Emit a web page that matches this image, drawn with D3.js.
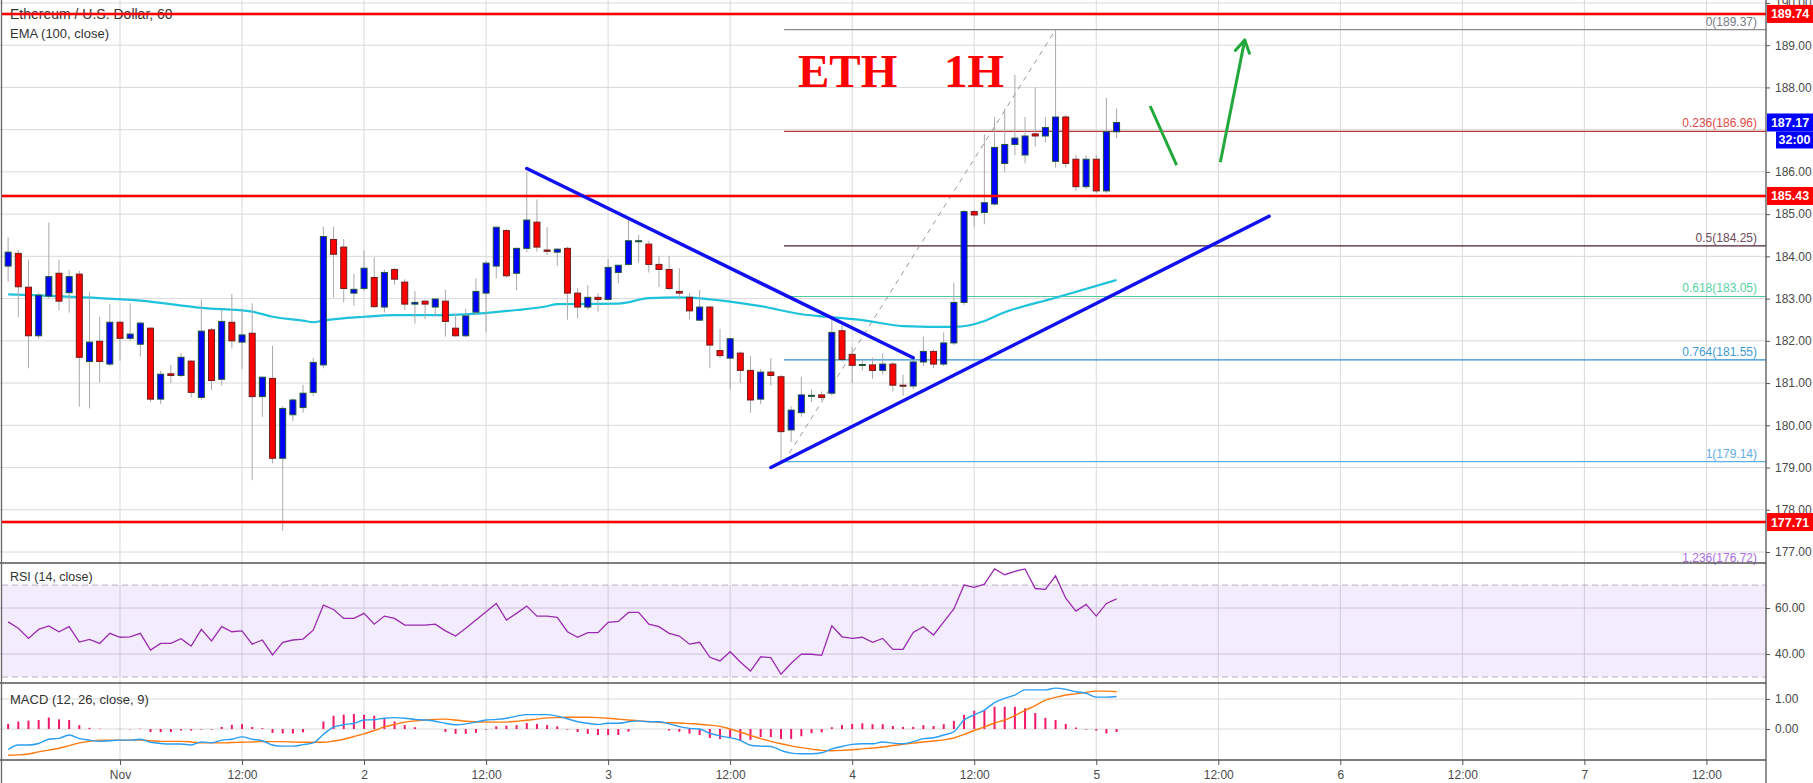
<!DOCTYPE html>
<html><head><meta charset="utf-8">
<script src="https://cdn.jsdelivr.net/npm/d3@7/dist/d3.min.js"></script>
<style>body{margin:0;background:#fff;overflow:hidden}svg{display:block;font-family:"Liberation Sans",Arial,sans-serif}</style>
</head><body><svg id="c" width="1813" height="783"></svg>
<script>
// ---------- DATA (hourly candles, first bar = 31 Oct 13:00) ----------
const opens=[183.77,184.07,183.27,182.12,183.06,183.60,183.14,183.58,181.51,181.99,181.45,182.44,182.06,181.92,182.30,180.62,181.22,181.18,181.52,180.66,182.26,181.09,182.44,181.97,182.18,180.68,181.11,179.22,180.25,180.42,180.78,181.43,184.40,184.22,183.13,183.24,183.50,182.80,183.69,183.39,182.87,182.94,182.80,182.94,182.30,182.12,182.68,183.13,183.77,184.61,183.60,184.19,184.81,184.15,184.10,184.19,183.13,182.80,183.03,182.98,183.62,183.81,184.35,184.29,183.81,183.69,183.17,183.03,182.49,182.80,181.77,181.59,181.71,181.30,180.62,181.26,181.15,179.89,180.30,180.70,180.72,180.76,182.24,181.68,181.43,181.43,181.30,181.45,180.95,180.93,181.50,181.75,181.45,181.95,182.91,185.06,185.04,185.24,186.20,186.65,186.40,186.90,186.85,186.25,187.30,186.30,185.65,186.30,185.55,186.95];
const highs=[184.45,184.15,183.92,183.14,184.80,183.92,183.68,183.66,183.15,182.57,182.87,182.46,182.89,182.45,182.32,181.29,181.43,181.71,181.54,182.98,182.30,182.73,183.11,182.76,182.89,181.14,181.88,180.45,180.64,180.96,181.60,184.70,184.70,184.41,183.58,184.14,183.98,183.69,183.72,183.46,183.18,182.95,183.00,183.21,182.65,182.76,183.48,183.89,184.70,184.65,184.20,186.00,185.35,184.69,184.20,184.23,183.25,183.32,183.13,183.93,183.80,184.90,184.51,184.37,184.01,184.01,183.72,183.13,183.20,182.82,182.28,182.08,181.75,181.64,181.33,181.59,181.19,180.45,181.15,180.85,180.80,182.57,182.38,181.86,181.55,181.60,181.70,181.50,181.20,181.60,182.10,181.80,182.20,183.38,185.10,185.10,186.89,187.30,187.50,188.30,187.30,188.00,187.30,189.37,187.35,186.40,186.40,186.40,187.75,187.50];
const lows=[183.40,182.56,181.35,182.05,183.00,182.73,182.67,180.44,180.40,181.01,181.40,181.53,182.00,181.63,180.55,180.50,181.00,181.14,180.66,180.60,180.84,180.94,181.82,181.33,178.70,180.20,179.10,177.50,180.10,180.30,180.70,181.35,183.02,182.91,182.83,183.18,182.78,182.67,183.33,182.73,182.41,182.51,182.57,182.10,182.10,182.08,182.60,182.20,183.48,183.50,183.20,184.10,184.11,184.03,183.77,182.50,182.53,182.73,182.69,182.95,183.36,183.78,183.85,183.62,183.27,183.20,182.98,182.51,182.47,181.35,181.60,180.85,181.00,180.30,180.50,180.94,179.14,179.60,180.20,180.55,180.60,180.70,181.50,181.00,181.30,181.10,181.20,180.80,180.70,180.85,181.40,181.35,181.40,181.90,182.85,184.70,184.76,185.20,186.00,186.40,186.20,186.60,186.70,186.10,186.10,185.55,185.60,185.50,185.50,186.80];
const closes=[184.10,183.28,182.12,183.08,183.52,182.94,183.52,181.61,181.97,181.51,182.44,182.06,182.16,182.42,180.62,181.21,181.18,181.61,180.78,182.23,181.06,182.46,182.00,182.14,180.68,181.14,179.22,180.40,180.60,180.76,181.49,184.47,184.05,183.24,183.22,183.72,182.81,183.62,183.46,182.87,182.91,182.87,182.99,182.46,182.12,182.59,183.17,183.84,184.69,183.54,184.19,184.86,184.22,184.12,184.17,183.13,182.80,183.03,182.98,183.74,183.79,184.37,184.37,183.81,183.69,183.24,183.13,182.71,182.80,181.90,181.65,182.05,181.30,180.60,181.26,181.18,179.85,180.36,180.72,180.71,180.66,182.20,181.56,181.42,181.44,181.30,181.45,180.95,180.93,181.50,181.75,181.45,181.95,182.91,185.06,184.98,185.27,186.58,186.65,186.80,186.85,186.85,187.05,187.30,186.20,185.65,186.30,185.55,186.95,187.17];
const rsi=[54.0,51.2,46.8,50.7,52.2,49.7,51.9,45.2,46.4,44.6,49.0,47.3,47.5,49.0,41.7,44.6,44.6,46.7,43.5,50.7,45.7,51.9,49.7,50.1,44.3,46.1,39.6,45.1,46.1,46.5,50.4,61.3,59.4,55.5,55.5,57.7,53.0,56.5,55.5,52.6,52.6,52.6,53.0,50.1,47.8,51.2,54.8,58.4,62.0,54.8,57.7,60.9,56.5,56.5,56.0,49.7,47.3,49.3,49.3,53.8,54.2,58.1,58.1,53.0,51.9,49.0,47.8,44.3,45.1,38.6,37.0,41.0,36.5,32.6,38.8,38.4,31.2,36.0,40.0,39.9,39.4,52.3,47.5,46.8,47.3,45.1,46.8,42.0,42.0,49.4,51.9,48.3,54.0,59.6,70.0,69.0,70.4,77.0,74.5,76.0,77.0,68.5,68.1,74.0,64.3,58.7,61.6,56.5,62.0,64.0];
const macd=[-0.68,-0.53,-0.53,-0.48,-0.34,-0.31,-0.20,-0.32,-0.37,-0.41,-0.39,-0.37,-0.37,-0.34,-0.44,-0.48,-0.50,-0.50,-0.53,-0.43,-0.46,-0.37,-0.34,-0.26,-0.34,-0.39,-0.53,-0.57,-0.57,-0.52,-0.46,-0.18,0.06,0.14,0.19,0.30,0.31,0.36,0.38,0.36,0.32,0.30,0.26,0.19,0.14,0.17,0.23,0.30,0.32,0.36,0.43,0.48,0.48,0.48,0.43,0.34,0.24,0.19,0.15,0.19,0.19,0.24,0.27,0.24,0.24,0.17,0.08,0.02,0.00,-0.14,-0.23,-0.29,-0.38,-0.54,-0.57,-0.58,-0.71,-0.80,-0.82,-0.82,-0.79,-0.66,-0.58,-0.51,-0.49,-0.49,-0.43,-0.47,-0.49,-0.42,-0.32,-0.29,-0.20,-0.09,0.30,0.47,0.63,0.88,1.02,1.13,1.30,1.30,1.30,1.36,1.32,1.24,1.19,1.06,1.06,1.08];
const signal=[-0.87,-0.86,-0.83,-0.76,-0.70,-0.64,-0.55,-0.46,-0.41,-0.37,-0.37,-0.37,-0.37,-0.37,-0.39,-0.41,-0.41,-0.41,-0.43,-0.46,-0.46,-0.46,-0.45,-0.44,-0.43,-0.42,-0.42,-0.42,-0.43,-0.44,-0.44,-0.44,-0.40,-0.34,-0.25,-0.16,-0.05,0.07,0.15,0.23,0.27,0.30,0.32,0.33,0.30,0.26,0.24,0.23,0.23,0.23,0.26,0.29,0.33,0.37,0.38,0.39,0.39,0.39,0.38,0.36,0.33,0.30,0.27,0.25,0.22,0.21,0.20,0.18,0.16,0.13,0.09,0.00,-0.10,-0.21,-0.32,-0.41,-0.49,-0.56,-0.62,-0.67,-0.71,-0.72,-0.71,-0.69,-0.66,-0.63,-0.60,-0.55,-0.51,-0.47,-0.43,-0.40,-0.36,-0.30,-0.18,-0.05,0.07,0.20,0.30,0.45,0.62,0.78,0.96,1.05,1.13,1.17,1.22,1.26,1.26,1.24];
const hist=[0.17,0.25,0.28,0.30,0.38,0.32,0.30,0.13,0.04,0.01,0.00,0.01,-0.01,0.01,-0.10,-0.10,-0.10,-0.05,-0.05,-0.02,-0.02,0.07,0.14,0.16,0.07,0.03,-0.13,-0.15,-0.15,-0.11,0.00,0.25,0.44,0.48,0.50,0.47,0.44,0.33,0.25,0.13,0.06,0.00,0.00,-0.10,-0.16,-0.16,-0.13,-0.02,0.09,0.11,0.13,0.20,0.17,0.13,0.09,-0.02,-0.10,-0.16,-0.20,-0.20,-0.20,-0.09,0.00,0.00,0.00,-0.05,-0.09,-0.15,-0.20,-0.30,-0.33,-0.27,-0.38,-0.36,-0.27,-0.27,-0.33,-0.33,-0.24,-0.14,-0.11,0.06,0.13,0.17,0.19,0.16,0.16,0.10,0.07,0.07,0.13,0.10,0.16,0.27,0.47,0.61,0.63,0.74,0.74,0.74,0.69,0.53,0.37,0.30,0.17,0.05,-0.02,-0.05,-0.15,-0.10];
const emaIdx=[0,9,13,19,24,26,29,30,31,35,38,43,50,53,54,60,63,66,71,74,78,80.5,84,88,93,96,97.5,103,109];
const emaVal=[183.10,183.01,182.95,182.78,182.69,182.57,182.48,182.44,182.48,182.57,182.61,182.61,182.73,182.82,182.87,182.88,183.01,183.03,182.93,182.82,182.63,182.57,182.49,182.35,182.33,182.47,182.63,183.02,183.44];
const priceTicks=[190,189,188,186,185,184,183,182,181,180,179,178,177];
const rsiTicks=[60,40];
const macdTicks=[1,0];
const redLevels=[189.74,185.43,177.71];
const fibRatios=["0","0.236","0.5","0.618","0.764","1","1.236"];
const fibValues=[189.37,186.96,184.25,183.05,181.55,179.14,176.72];
const fibLine=["#8a8a8a","#b8393b","#4a1f33","#4fc99c","#2c8fd2","#5fb0e6","#9c5ed6"];
const fibText=["#787b86","#e04848","#6e4a5c","#56d3a2","#3d9bd8","#62ade6","#a86ee0"];
const currentPrice=187.17, countdown="32:00";
// drawings: [barIndex, price]
const descLine=[[51,186.08],[89,181.60]];
const ascLine=[[75,179.00],[124,184.95]];
const fibFrom=[76.3,179.14], fibTo=[103,189.37];
const greenDown=[[112.3,187.56],[114.9,186.16]];
const greenUp=[[119.2,186.23],[121.6,189.12]];

// ---------- SCALES ----------
const PR=1766, W=1813;
const H1=3600e3, nov1=Date.UTC(2019,10,1), t0=Date.UTC(2019,9,31,13);
const tOf=i=>new Date(t0+i*H1);
const x=d3.scaleUtc().domain([new Date(nov1-11.8*H1),new Date(nov1+161.86*H1)]).range([0,PR]);
const xi=i=>x(tOf(i));
const y=d3.scaleLinear().domain([176.74,190.07]).range([563,0]);
const yR=d3.scaleLinear().domain([27.4,79.6]).range([683,563]);
const yM=d3.scaleLinear().domain([-1.03,1.53]).range([760,683]);

const svg=d3.select("#c");
const defs=svg.append("defs");
[["cm",0,563],["cr",563,120],["cmd",683,77]].forEach(([id,y0,h])=>defs.append("clipPath").attr("id",id).append("rect").attr("x",2).attr("y",y0).attr("width",PR-2).attr("height",h));

// grid
const tickDates=d3.range(0,14).map(k=>new Date(nov1+k*12*H1));
const g=svg.append("g");
g.selectAll(".vg").data(tickDates).join("line").attr("x1",d=>x(d)).attr("x2",d=>x(d)).attr("y1",0).attr("y2",760).attr("stroke","#d9d9d9");
g.selectAll(".hg").data(priceTicks.concat([187])).join("line").attr("x1",0).attr("x2",PR).attr("y1",d=>y(d)).attr("y2",d=>y(d)).attr("stroke","#d9d9d9");
// RSI band
svg.append("rect").attr("x",2).attr("width",PR-2).attr("y",yR(70)).attr("height",yR(30)-yR(70)).attr("fill","rgba(150,80,230,0.11)");
svg.selectAll(".rg").data(rsiTicks).join("line").attr("x1",0).attr("x2",PR).attr("y1",d=>yR(d)).attr("y2",d=>yR(d)).attr("stroke","#cfc3dd");
svg.selectAll(".rb").data([70,30]).join("line").attr("x1",2).attr("x2",PR).attr("y1",d=>yR(d)).attr("y2",d=>yR(d)).attr("stroke","#b8b0c0").attr("stroke-dasharray","6,4");
svg.selectAll(".mg").data(macdTicks).join("line").attr("x1",0).attr("x2",PR).attr("y1",d=>yM(d)).attr("y2",d=>yM(d)).attr("stroke","#d9d9d9");

// title texts
svg.append("text").attr("x",10).attr("y",19).attr("font-size",14).attr("fill","#333").text("Ethereum / U.S. Dollar, 60");
svg.append("text").attr("x",10).attr("y",38).attr("font-size",13).attr("fill","#333").text("EMA (100, close)");

// main panel
const m=svg.append("g").attr("clip-path","url(#cm)");
// fib levels
const fx0=xi(fibFrom[0]);
m.selectAll(".fl").data(fibValues).join("line").attr("x1",fx0).attr("x2",PR).attr("y1",d=>y(d)).attr("y2",d=>y(d)).attr("stroke",(d,i)=>fibLine[i]).attr("stroke-width",1.2);
m.append("line").attr("x1",xi(fibFrom[0])).attr("y1",y(fibFrom[1])).attr("x2",xi(fibTo[0])).attr("y2",y(fibTo[1])).attr("stroke","#999").attr("stroke-dasharray","5,5");
// EMA
m.append("path").datum(emaIdx.map((d,i)=>[d,emaVal[i]])).attr("d",d3.line().x(d=>xi(d[0])).y(d=>y(d[1])).curve(d3.curveMonotoneX)).attr("fill","none").attr("stroke","#1fc2db").attr("stroke-width",2.2);
// candles
const idx=d3.range(opens.length);
m.selectAll(".wk").data(idx).join("line").attr("x1",i=>xi(i)).attr("x2",i=>xi(i)).attr("y1",i=>y(highs[i])).attr("y2",i=>y(lows[i])).attr("stroke","#aaaaaa");
m.selectAll(".bd").data(idx).join("rect")
 .attr("x",i=>xi(i)-3).attr("width",6)
 .attr("y",i=>y(Math.max(opens[i],closes[i])))
 .attr("height",i=>Math.max(1,Math.abs(y(opens[i])-y(closes[i]))))
 .attr("fill",i=>closes[i]>=opens[i]?"#0000ff":"#ff0000")
 .attr("stroke",i=>closes[i]>=opens[i]?"#1d5535":"#6e1c1c").attr("stroke-width",1);
// red horizontal levels
m.selectAll(".rl1").data(redLevels).join("line").attr("x1",0).attr("x2",PR).attr("y1",d=>y(d)).attr("y2",d=>y(d)).attr("stroke","rgba(255,0,0,0.3)").attr("stroke-width",4);
m.selectAll(".rl2").data(redLevels).join("line").attr("x1",0).attr("x2",PR).attr("y1",d=>y(d)).attr("y2",d=>y(d)).attr("stroke","#ff0000").attr("stroke-width",2);
// trend lines
[descLine,ascLine].forEach(L=>m.append("line").attr("x1",xi(L[0][0])).attr("y1",y(L[0][1])).attr("x2",xi(L[1][0])).attr("y2",y(L[1][1])).attr("stroke","#1010f0").attr("stroke-width",3.5).attr("stroke-linecap","round"));
// green arrows
m.append("line").attr("x1",xi(greenDown[0][0])).attr("y1",y(greenDown[0][1])).attr("x2",xi(greenDown[1][0])).attr("y2",y(greenDown[1][1])).attr("stroke","#22a83a").attr("stroke-width",3);
const ux1=xi(greenUp[0][0]),uy1=y(greenUp[0][1]),ux2=xi(greenUp[1][0]),uy2=y(greenUp[1][1]);
m.append("line").attr("x1",ux1).attr("y1",uy1).attr("x2",ux2).attr("y2",uy2).attr("stroke","#22a83a").attr("stroke-width",3);
const ang=Math.atan2(uy2-uy1,ux2-ux1);
[ang+2.6,ang-2.6].forEach(a=>m.append("line").attr("x1",ux2).attr("y1",uy2).attr("x2",ux2+14*Math.cos(a)).attr("y2",uy2+14*Math.sin(a)).attr("stroke","#22a83a").attr("stroke-width",3).attr("stroke-linecap","round"));
// fib labels (last one sits on the panel edge, drawn unclipped)
m.selectAll(".ft").data(fibValues.slice(0,6)).join("text").attr("x",1757).attr("y",d=>y(d)-4).attr("text-anchor","end").attr("font-size",12).attr("fill",(d,i)=>fibText[i]).text((d,i)=>fibRatios[i]+"("+d.toFixed(2)+")");
svg.append("text").attr("x",1757).attr("y",y(fibValues[6])-2).attr("text-anchor","end").attr("font-size",12).attr("fill",fibText[6]).text(fibRatios[6]+"("+fibValues[6].toFixed(2)+")");
// big title
const serif="'Liberation Serif','Times New Roman',serif";
m.append("text").attr("x",798).attr("y",87).attr("font-family",serif).attr("font-weight","bold").attr("font-size",47).attr("fill","#ff0000").text("ETH");
m.append("text").attr("x",944).attr("y",87).attr("font-family",serif).attr("font-weight","bold").attr("font-size",47).attr("fill","#ff0000").text("1H");

// RSI
const r=svg.append("g").attr("clip-path","url(#cr)");
r.append("path").datum(idx).attr("d",d3.line().x(i=>xi(i)).y(i=>yR(rsi[i]))).attr("fill","none").attr("stroke","#9a2bb0").attr("stroke-width",1.3);
svg.append("text").attr("x",10).attr("y",581).attr("font-size",12.5).attr("fill","#333").text("RSI (14, close)");

// MACD
const mc=svg.append("g").attr("clip-path","url(#cmd)");
mc.selectAll(".hb").data(idx).join("rect").attr("x",i=>xi(i)-1).attr("width",2).attr("y",i=>Math.min(yM(0),yM(hist[i]))).attr("height",i=>Math.abs(yM(0)-yM(hist[i]))).attr("fill","#f0186a");
mc.append("path").datum(idx).attr("d",d3.line().x(i=>xi(i)).y(i=>yM(signal[i])).curve(d3.curveMonotoneX)).attr("fill","none").attr("stroke","#ff7a10").attr("stroke-width",1.4);
mc.append("path").datum(idx).attr("d",d3.line().x(i=>xi(i)).y(i=>yM(macd[i])).curve(d3.curveMonotoneX)).attr("fill","none").attr("stroke","#2a9df4").attr("stroke-width",1.4);
svg.append("text").attr("x",10).attr("y",704).attr("font-size",13).attr("fill","#333").text("MACD (12, 26, close, 9)");

// frame lines
[563,683,760].forEach(v=>svg.append("line").attr("x1",0).attr("x2",PR).attr("y1",v).attr("y2",v).attr("stroke","#555").attr("stroke-width",1.3));
svg.append("line").attr("x1",1.5).attr("x2",1.5).attr("y1",0).attr("y2",783).attr("stroke","#666").attr("stroke-width",1.3);

// axes
const fmt=d3.format(".2f");
function styleAxis(sel){sel.select(".domain").remove();sel.selectAll("line").attr("stroke","#555");sel.selectAll("text").attr("fill","#4a4a4a").attr("font-size",12).attr("font-family","'Liberation Sans',Arial,sans-serif");}
svg.append("g").attr("transform",`translate(${PR},0)`).call(d3.axisRight(y).tickValues(priceTicks).tickFormat(fmt).tickSize(4).tickPadding(5)).call(styleAxis);
svg.append("g").attr("transform",`translate(${PR},0)`).call(d3.axisRight(yR).tickValues(rsiTicks).tickFormat(fmt).tickSize(4).tickPadding(5)).call(styleAxis);
svg.append("g").attr("transform",`translate(${PR},0)`).call(d3.axisRight(yM).tickValues(macdTicks).tickFormat(fmt).tickSize(4).tickPadding(5)).call(styleAxis);
const xfmt=d=>d.getUTCHours()===12?"12:00":(d.getUTCDate()===1?"Nov":String(d.getUTCDate()));
svg.append("g").attr("transform","translate(0,760)").call(d3.axisBottom(x).tickValues(tickDates).tickFormat(xfmt).tickSize(5).tickPadding(5)).call(styleAxis);
svg.append("line").attr("x1",PR).attr("x2",PR).attr("y1",0).attr("y2",783).attr("stroke","#555").attr("stroke-width",1.3);

// price tags
function tag(v,bg,txt,x0,w){svg.append("rect").attr("x",x0).attr("y",y(v)-9).attr("width",w).attr("height",18).attr("fill",bg);
 svg.append("text").attr("x",x0+w/2).attr("y",y(v)+4.5).attr("text-anchor","middle").attr("font-size",12.5).attr("font-weight","bold").attr("fill","#fff").text(txt);}
redLevels.forEach(v=>tag(v,"#ff0000",fmt(v),PR+1,W-PR-1));
tag(currentPrice,"#0000ff",fmt(currentPrice),PR+1,W-PR-1);
svg.append("rect").attr("x",1776).attr("y",y(currentPrice)+9).attr("width",37).attr("height",17).attr("fill","#0000ff");
svg.append("text").attr("x",1794.5).attr("y",y(currentPrice)+22).attr("text-anchor","middle").attr("font-size",12.5).attr("font-weight","bold").attr("fill","#fff").text(countdown);
</script></body></html>
